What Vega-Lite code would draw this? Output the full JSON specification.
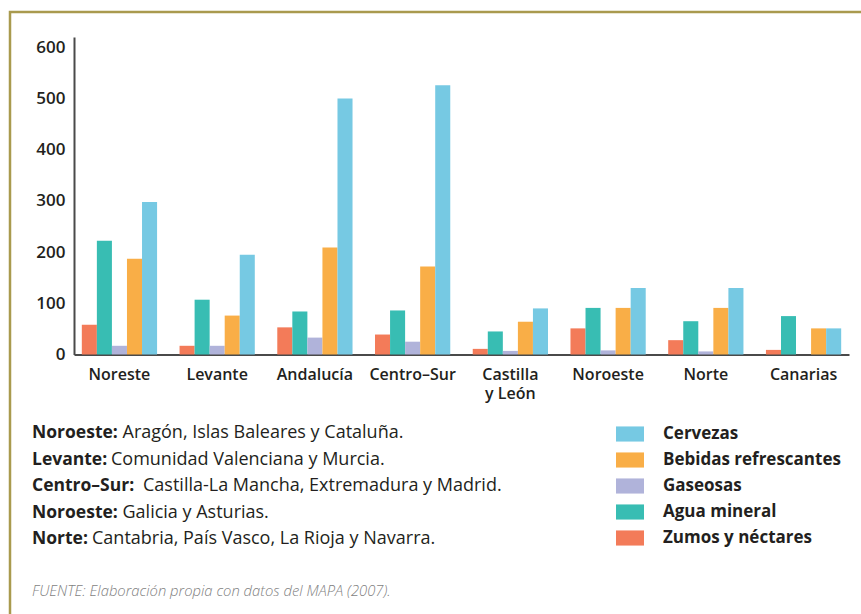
{
  "$schema": "https://vega.github.io/schema/vega-lite/v6.json",
  "width": 870,
  "height": 622,
  "autosize": {"type": "none"},
  "padding": {"left": 10, "top": 12, "right": -19, "bottom": -20},
  "background": "white",
  "config": {
    "view": {"stroke": "#A99A4E", "strokeWidth": 2.5},
    "font": "Open Sans",
    "text": {"font": "Open Sans"}
  },
  "datasets": {
    "bars": [
      {"region": "Noreste", "drink": "Zumos y néctares", "value": 58},
      {"region": "Noreste", "drink": "Agua mineral", "value": 222},
      {"region": "Noreste", "drink": "Gaseosas", "value": 17},
      {"region": "Noreste", "drink": "Bebidas refrescantes", "value": 187},
      {"region": "Noreste", "drink": "Cervezas", "value": 298},
      {"region": "Levante", "drink": "Zumos y néctares", "value": 17},
      {"region": "Levante", "drink": "Agua mineral", "value": 107},
      {"region": "Levante", "drink": "Gaseosas", "value": 17},
      {"region": "Levante", "drink": "Bebidas refrescantes", "value": 76},
      {"region": "Levante", "drink": "Cervezas", "value": 195},
      {"region": "Andalucía", "drink": "Zumos y néctares", "value": 53},
      {"region": "Andalucía", "drink": "Agua mineral", "value": 84},
      {"region": "Andalucía", "drink": "Gaseosas", "value": 33},
      {"region": "Andalucía", "drink": "Bebidas refrescantes", "value": 209},
      {"region": "Andalucía", "drink": "Cervezas", "value": 500},
      {"region": "Centro–Sur", "drink": "Zumos y néctares", "value": 39},
      {"region": "Centro–Sur", "drink": "Agua mineral", "value": 86},
      {"region": "Centro–Sur", "drink": "Gaseosas", "value": 25},
      {"region": "Centro–Sur", "drink": "Bebidas refrescantes", "value": 172},
      {"region": "Centro–Sur", "drink": "Cervezas", "value": 526},
      {"region": "Castilla y León", "drink": "Zumos y néctares", "value": 11},
      {"region": "Castilla y León", "drink": "Agua mineral", "value": 45},
      {"region": "Castilla y León", "drink": "Gaseosas", "value": 7},
      {"region": "Castilla y León", "drink": "Bebidas refrescantes", "value": 64},
      {"region": "Castilla y León", "drink": "Cervezas", "value": 90},
      {"region": "Noroeste", "drink": "Zumos y néctares", "value": 51},
      {"region": "Noroeste", "drink": "Agua mineral", "value": 91},
      {"region": "Noroeste", "drink": "Gaseosas", "value": 8},
      {"region": "Noroeste", "drink": "Bebidas refrescantes", "value": 91},
      {"region": "Noroeste", "drink": "Cervezas", "value": 130},
      {"region": "Norte", "drink": "Zumos y néctares", "value": 28},
      {"region": "Norte", "drink": "Agua mineral", "value": 65},
      {"region": "Norte", "drink": "Gaseosas", "value": 6},
      {"region": "Norte", "drink": "Bebidas refrescantes", "value": 91},
      {"region": "Norte", "drink": "Cervezas", "value": 130},
      {"region": "Canarias", "drink": "Zumos y néctares", "value": 9},
      {"region": "Canarias", "drink": "Agua mineral", "value": 75},
      {"region": "Canarias", "drink": "Gaseosas", "value": 0},
      {"region": "Canarias", "drink": "Bebidas refrescantes", "value": 51},
      {"region": "Canarias", "drink": "Cervezas", "value": 51}
    ],
    "notes": [
      {"n": 1, "label": "Noroeste:", "desc": "Aragón, Islas Baleares y Cataluña."},
      {"n": 2, "label": "Levante:", "desc": "Comunidad Valenciana y Murcia."},
      {"n": 3, "label": "Centro–Sur:", "desc": "Castilla-La Mancha, Extremadura y Madrid."},
      {"n": 4, "label": "Noroeste:", "desc": "Galicia y Asturias."},
      {"n": 5, "label": "Norte:", "desc": "Cantabria, País Vasco, La Rioja y Navarra."},
      {"n": 7, "label": "", "desc": "FUENTE: Elaboración propia con datos del MAPA (2007)."}
    ]
  },
  "layer": [
    {
      "data": {"name": "bars"},
      "mark": {"type": "bar"},
      "encoding": {
        "x": {
          "field": "region",
          "type": "nominal",
          "sort": ["Noreste", "Levante", "Andalucía", "Centro–Sur", "Castilla y León", "Noroeste", "Norte", "Canarias"],
          "scale": {"range": [64, 839], "paddingInner": 0.23, "paddingOuter": 0.08},
          "axis": {
            "title": null,
            "orient": "bottom",
            "offset": -279.5,
            "ticks": false,
            "domainColor": "#4a4a4a",
            "domainWidth": 2,
            "labelAngle": 0,
            "labelFont": "Open Sans",
            "labelFontWeight": 600,
            "labelFontSize": 16,
            "labelColor": "#231f20",
            "labelPadding": 12,
            "labelLineHeight": 19,
            "labelExpr": "datum.value == 'Castilla y León' ? ['Castilla', 'y León'] : datum.label"
          }
        },
        "xOffset": {
          "field": "drink",
          "type": "nominal",
          "sort": ["Zumos y néctares", "Agua mineral", "Gaseosas", "Bebidas refrescantes", "Cervezas"],
          "scale": {"paddingInner": 0, "paddingOuter": 0}
        },
        "y": {
          "field": "value",
          "type": "quantitative",
          "scale": {"domain": [0, 620], "range": [342.5, 25], "nice": false, "zero": true},
          "axis": {
            "title": null,
            "orient": "left",
            "offset": -64,
            "values": [0, 100, 200, 300, 400, 500, 600],
            "ticks": false,
            "grid": false,
            "domainColor": "#4a4a4a",
            "domainWidth": 2,
            "labelFont": "Open Sans",
            "labelFontWeight": 600,
            "labelFontSize": 17,
            "labelColor": "#231f20",
            "labelPadding": 9
          }
        },
        "color": {
          "field": "drink",
          "type": "nominal",
          "scale": {
            "domain": ["Zumos y néctares", "Agua mineral", "Gaseosas", "Bebidas refrescantes", "Cervezas"],
            "range": ["#F37B59", "#38BDB3", "#B0B3DA", "#F9AE47", "#76C9E3"]
          },
          "legend": {
            "title": null,
            "orient": "none",
            "legendX": 606,
            "legendY": 408,
            "padding": 0,
            "values": ["Cervezas", "Bebidas refrescantes", "Gaseosas", "Agua mineral", "Zumos y néctares"],
            "symbolType": "M-1,-0.54H1V0.54H-1Z",
            "symbolSize": 784,
            "symbolStrokeWidth": 0,
            "symbolOpacity": 1,
            "labelFont": "Open Sans",
            "labelFontWeight": "bold",
            "labelFontSize": 17,
            "labelColor": "#231f20",
            "labelOffset": 19,
            "labelLimit": 0,
            "rowPadding": 4
          }
        }
      }
    },
    {
      "data": {"name": "notes"},
      "transform": [{"filter": "datum.n <= 5"}],
      "mark": {"type": "text", "align": "left", "baseline": "middle", "font": "Open Sans", "fontWeight": "bold", "fontSize": 17.5, "color": "#231f20", "x": 22},
      "encoding": {
        "y": {"field": "n", "type": "ordinal", "scale": {"type": "point", "domain": [1, 2, 3, 4, 5, 6, 7], "range": [421, 580], "padding": 0}, "axis": null},
        "text": {"field": "label"}
      }
    },
    {
      "data": {"name": "notes"},
      "transform": [{"filter": "datum.n == 1 || datum.n == 4"}],
      "mark": {"type": "text", "align": "left", "baseline": "middle", "font": "Open Sans", "fontSize": 18, "color": "#231f20", "x": 22, "dx": 90.5},
      "encoding": {
        "y": {"field": "n", "type": "ordinal", "scale": {"type": "point", "domain": [1, 2, 3, 4, 5, 6, 7], "range": [421, 580], "padding": 0}, "axis": null},
        "text": {"field": "desc"}
      }
    },
    {
      "data": {"name": "notes"},
      "transform": [{"filter": "datum.n == 2"}],
      "mark": {"type": "text", "align": "left", "baseline": "middle", "font": "Open Sans", "fontSize": 18, "color": "#231f20", "x": 22, "dx": 79},
      "encoding": {
        "y": {"field": "n", "type": "ordinal", "scale": {"type": "point", "domain": [1, 2, 3, 4, 5, 6, 7], "range": [421, 580], "padding": 0}, "axis": null},
        "text": {"field": "desc"}
      }
    },
    {
      "data": {"name": "notes"},
      "transform": [{"filter": "datum.n == 3"}],
      "mark": {"type": "text", "align": "left", "baseline": "middle", "font": "Open Sans", "fontSize": 18, "color": "#231f20", "x": 22, "dx": 111},
      "encoding": {
        "y": {"field": "n", "type": "ordinal", "scale": {"type": "point", "domain": [1, 2, 3, 4, 5, 6, 7], "range": [421, 580], "padding": 0}, "axis": null},
        "text": {"field": "desc"}
      }
    },
    {
      "data": {"name": "notes"},
      "transform": [{"filter": "datum.n == 5"}],
      "mark": {"type": "text", "align": "left", "baseline": "middle", "font": "Open Sans", "fontSize": 18, "color": "#231f20", "x": 22, "dx": 60},
      "encoding": {
        "y": {"field": "n", "type": "ordinal", "scale": {"type": "point", "domain": [1, 2, 3, 4, 5, 6, 7], "range": [421, 580], "padding": 0}, "axis": null},
        "text": {"field": "desc"}
      }
    },
    {
      "data": {"name": "notes"},
      "transform": [{"filter": "datum.n == 7"}],
      "mark": {"type": "text", "align": "left", "baseline": "middle", "font": "Open Sans", "fontStyle": "italic", "fontWeight": 300, "fontSize": 14.8, "color": "#7f7f7f", "x": 22},
      "encoding": {
        "y": {"field": "n", "type": "ordinal", "scale": {"type": "point", "domain": [1, 2, 3, 4, 5, 6, 7], "range": [421, 580], "padding": 0}, "axis": null},
        "text": {"field": "desc"}
      }
    }
  ],
  "resolve": {"scale": {"y": "independent"}}
}
